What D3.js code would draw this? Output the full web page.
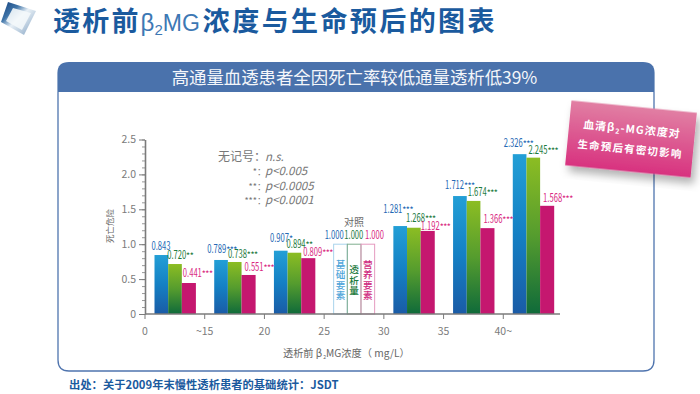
<!DOCTYPE html>
<html><head><meta charset="utf-8">
<script src="https://cdn.jsdelivr.net/npm/d3@7/dist/d3.min.js"></script>
<style>html,body{margin:0;padding:0;background:#fff}svg{display:block}
text{font-family:"Noto Sans CJK SC","Liberation Sans",sans-serif}
</style></head><body><div id="c"></div>
<script>
const categories=["0","~15","20","25","30","35","40~"];
const yTicks=[0,0.5,1.0,1.5,2.0,2.5];
const seriesNames=["基础要素","透析量","营养要素"];
// bar heights as drawn in the picture
const basicFactors=[0.845,0.774,0.907,1.000,1.26,1.69,2.29];
const dialysisDose=[0.716,0.745,0.878,1.000,1.236,1.62,2.24];
const nutrition=[0.444,0.559,0.80,1.000,1.19,1.23,1.55];
// values as printed above the bars
const basicLabels=["0.843","0.789","0.907","1.000","1.281","1.712","2.326"];
const doseLabels=["0.720","0.738","0.894","1.000","1.268","1.674","2.245"];
const nutritionLabels=["0.441","0.551","0.809","1.000","1.192","1.366","1.568"];
const basicStars=["","***","*","","***","***","***"];
const doseStars=["**","***","**","","***","***","***"];
const nutritionStars=["***","***","***","","***","***","***"];
const referenceIndex=3;
const legendKeys=["无记号：","*：","**：","***："];
const legendVals=["n.s.","p<0.005","p<0.0005","p<0.0001"];

const W=700,H=394;
const svg=d3.select("#c").append("svg").attr("width",W).attr("height",H);
const defs=svg.append("defs");
function grad(id,a,b,c){const g=defs.append("linearGradient").attr("id",id).attr("x1",0).attr("y1",0).attr("x2",0).attr("y2",1);
 g.append("stop").attr("offset","0%").attr("stop-color",a);
 if(c)g.append("stop").attr("offset","50%").attr("stop-color",c);
 g.append("stop").attr("offset","100%").attr("stop-color",b);}
grad("gBlue","#239fd6","#1a5ba6","#1480c4");
grad("gGreen","#8cbd23","#0f6a3a","#559c2e");
grad("gMag","#c5176f","#c5176f");
grad("gCall","#e17fa3","#d8327f");
const lg=defs.append("linearGradient").attr("id","gLogo").attr("x1",0).attr("y1",0).attr("x2",1).attr("y2",1);
[["0%","#123f7c"],["30%","#3f74a8"],["50%","#e8f0f6"],["100%","#7f9fc0"]].forEach(s=>lg.append("stop").attr("offset",s[0]).attr("stop-color",s[1]));
const sh=defs.append("filter").attr("id","shadow").attr("x","-10%").attr("y","-10%").attr("width","125%").attr("height","130%");
sh.append("feDropShadow").attr("dx",4).attr("dy",6).attr("stdDeviation",4).attr("flood-color","#000").attr("flood-opacity",0.3);

// Logo
svg.append("polygon").attr("points","8,2 36,11 24,35 1,22").attr("fill","url(#gLogo)");
svg.append("polygon").attr("points","13,8 31,13 22,30 6,21").attr("fill","#f4f8fb").attr("opacity",.9);

// Title
const NAVY="#1a5a9e";
const t=svg.append("text").attr("x",53).attr("y",31).attr("fill",NAVY);
t.append("tspan").text("透析前").attr("font-size",27).attr("font-weight",700).attr("letter-spacing",2.2);
t.append("tspan").text("β").attr("font-size",24).attr("font-family","Liberation Sans").attr("fill","#3d78b4");
t.append("tspan").text("2").attr("font-size",15).attr("dy",4).attr("font-family","Liberation Sans").attr("fill","#3d78b4");
t.append("tspan").text("MG").attr("font-size",23).attr("dy",-4).attr("font-family","Liberation Sans").attr("fill","#3d78b4");
t.append("tspan").text("浓度与生命预后的图表").attr("font-size",27).attr("font-weight",700).attr("letter-spacing",2.4).attr("dx",3);

// Panel
const pL=58,pR=654,pT=62,pB=371,hB=92,rad=11;
svg.append("path").attr("d",`M${pL},${hB}V${pB-rad}Q${pL},${pB} ${pL+rad},${pB}H${pR-rad}Q${pR},${pB} ${pR},${pB-rad}V${hB}`).attr("fill","#fff").attr("stroke","#4f74ae").attr("stroke-width",1.3);
svg.append("path").attr("d",`M${pL-.6},${hB}V${pT+rad}Q${pL-.6},${pT} ${pL+rad},${pT}H${pR-rad}Q${pR+.6},${pT} ${pR+.6},${pT+rad}V${hB}Z`).attr("fill","#4a72ac");
svg.append("text").attr("x",354.5).attr("y",84).attr("text-anchor","middle").attr("fill","#f4f6fa").attr("font-size",17.4).text("高通量血透患者全因死亡率较低通量透析低39%");

// Scales
const x=d3.scaleBand().domain(categories).range([145,563]);
const inner=d3.scaleBand().domain([0,1,2]).range([9.5,50.5]);
const y=d3.scaleLinear().domain([0,2.5]).range([314,139.5]);
const GREY="#7b7b7b";

// Axes
const yMinor=d3.axisLeft(y).tickValues(d3.range(0,2.51,0.1)).tickSize(3).tickFormat("");
const ym=svg.append("g").attr("transform","translate(145,0)").call(yMinor);
ym.selectAll("line").attr("stroke","#999");ym.select(".domain").remove();
const yAx=svg.append("g").attr("transform","translate(145,0)").call(d3.axisLeft(y).tickValues(yTicks).tickSize(6).tickSizeOuter(0).tickFormat(d=>d===0?"0":d3.format(".1f")(d)));
yAx.select(".domain").attr("stroke",GREY).attr("stroke-width",1.6);
yAx.selectAll("line").attr("stroke",GREY);
yAx.selectAll("text").attr("fill",GREY).attr("font-size",10.5).attr("font-family","Liberation Sans").attr("x",-9);

// Series
const series=[
 {vals:basicFactors,labels:basicLabels,stars:basicStars,fill:"url(#gBlue)",lab:"#2468b4",box:"#a9d3ec",txt:"#4ea5da",dx:[-3,-7,-4,-9,-10,-8,-9],dy:[5,7,9,5,13,7,7]},
 {vals:dialysisDose,labels:doseLabels,stars:doseStars,fill:"url(#gGreen)",lab:"#1d7a3e",box:"#7fae8f",txt:"#1c7a3c",dx:[-1,0,-1,-3,-1,1,2],dy:[5,4,5,5,6,5,4]},
 {vals:nutrition,labels:nutritionLabels,stars:nutritionStars,fill:"url(#gMag)",lab:"#d9297f",box:"#e59abf",txt:"#cf2a80",dx:[1,3,2,4,0,3,3],dy:[6,4,2,5,1,5,4]}
];
series.forEach((s,si)=>{
 const g=svg.append("g");
 categories.forEach((c,i)=>{
  const bx=x(c)+inner(si),v=s.vals[i],top=y(v),bw=inner.bandwidth()+(si===2&&i!==referenceIndex?.4:0);
  if(i===referenceIndex){
   g.append("rect").attr("x",bx).attr("y",top).attr("width",bw).attr("height",y(0)-top).attr("fill","none").attr("stroke",s.box).attr("stroke-width",1);
   const chars=[...seriesNames[si]];
   const cy=(top+y(0))/2+1,step=10.2;
   chars.forEach((ch,k)=>{
    g.append("text").attr("x",bx+bw/2).attr("y",cy+(k-(chars.length-1)/2)*step+3.4).attr("text-anchor","middle").attr("font-size",9.6).attr("font-weight",500).attr("fill",s.txt).text(ch);
   });
  } else {
   g.append("rect").attr("x",bx).attr("y",top).attr("width",bw).attr("height",y(0)-top).attr("fill",s.fill);
  }
  const lx=bx+s.dx[i],ly=top-s.dy[i];
  g.append("text").attr("x",lx).attr("y",ly).attr("fill",s.lab).attr("font-size",11.5).attr("font-family","Liberation Sans")
   .attr("textLength",19).attr("lengthAdjust","spacingAndGlyphs").text(s.labels[i]);
  if(s.stars[i])g.append("text").attr("x",lx+19.2).attr("y",ly-1).attr("fill",s.lab).attr("font-size",7).attr("font-weight",700).attr("font-family","Liberation Sans").text(s.stars[i]);
 });
});

// x axis
const xAx=svg.append("g").attr("transform","translate(0,314)");
xAx.append("line").attr("x1",145).attr("x2",560).attr("stroke",GREY).attr("stroke-width",1.6);
xAx.selectAll("line.t").data(categories).join("line").attr("class","t").attr("x1",d=>x(d)).attr("x2",d=>x(d)).attr("y1",0).attr("y2",5).attr("stroke",GREY);
xAx.selectAll("text").data(categories).join("text").attr("x",d=>x(d)).attr("y",21).attr("text-anchor","middle").attr("fill",GREY).attr("font-size",10.5).attr("font-family","Liberation Sans").text(d=>d);

// Axis titles
svg.append("text").attr("transform","translate(113,226) rotate(-90)").attr("text-anchor","middle").attr("font-size",8.5).attr("fill","#666").text("死亡危险");
const xt=svg.append("text").attr("x",283).attr("y",357).attr("fill","#666").attr("font-size",10.2);
xt.append("tspan").text("透析前 β");
xt.append("tspan").text("2").attr("font-size",5).attr("dy",2).attr("dx",1);
xt.append("tspan").text("MG浓度（ mg/L）").attr("dy",-2);

svg.append("text").attr("x",354).attr("y",226).attr("text-anchor","middle").attr("font-size",10).attr("fill","#666").text("对照");

// Significance legend
legendKeys.forEach((k,i)=>{
 const ly=161+i*14.3;
 svg.append("text").attr("x",266).attr("y",ly).attr("text-anchor","end").attr("font-size",i?9:12).attr("fill","#777").text(k);
 svg.append("text").attr("x",265).attr("y",ly).attr("font-size",11.5).attr("font-style","italic").attr("font-family","Liberation Sans").attr("fill","#777").text(legendVals[i]);
});

// Footer
svg.append("text").attr("x",69).attr("y",389).attr("font-size",11.3).attr("font-weight",700).attr("fill",NAVY).text("出处：关于2009年末慢性透析患者的基础统计：JSDT");

// Callout
const call=svg.append("g").attr("transform","translate(631,139) rotate(5.6)");
call.append("rect").attr("x",-63).attr("y",-32.5).attr("width",126).attr("height",65).attr("fill","url(#gCall)").attr("filter","url(#shadow)");
const c1=call.append("text").attr("x",0).attr("y",-6).attr("text-anchor","middle").attr("fill","#fff").attr("font-size",11).attr("font-weight",700).attr("letter-spacing",1);
c1.append("tspan").text("血清β");c1.append("tspan").text("2").attr("font-size",7).attr("dy",2);c1.append("tspan").text("-MG浓度对").attr("dy",-2);
call.append("text").attr("x",0).attr("y",14).attr("text-anchor","middle").attr("fill","#fff").attr("font-size",10.5).attr("font-weight",700).attr("letter-spacing",1.2).text("生命预后有密切影响");
</script></body></html>
